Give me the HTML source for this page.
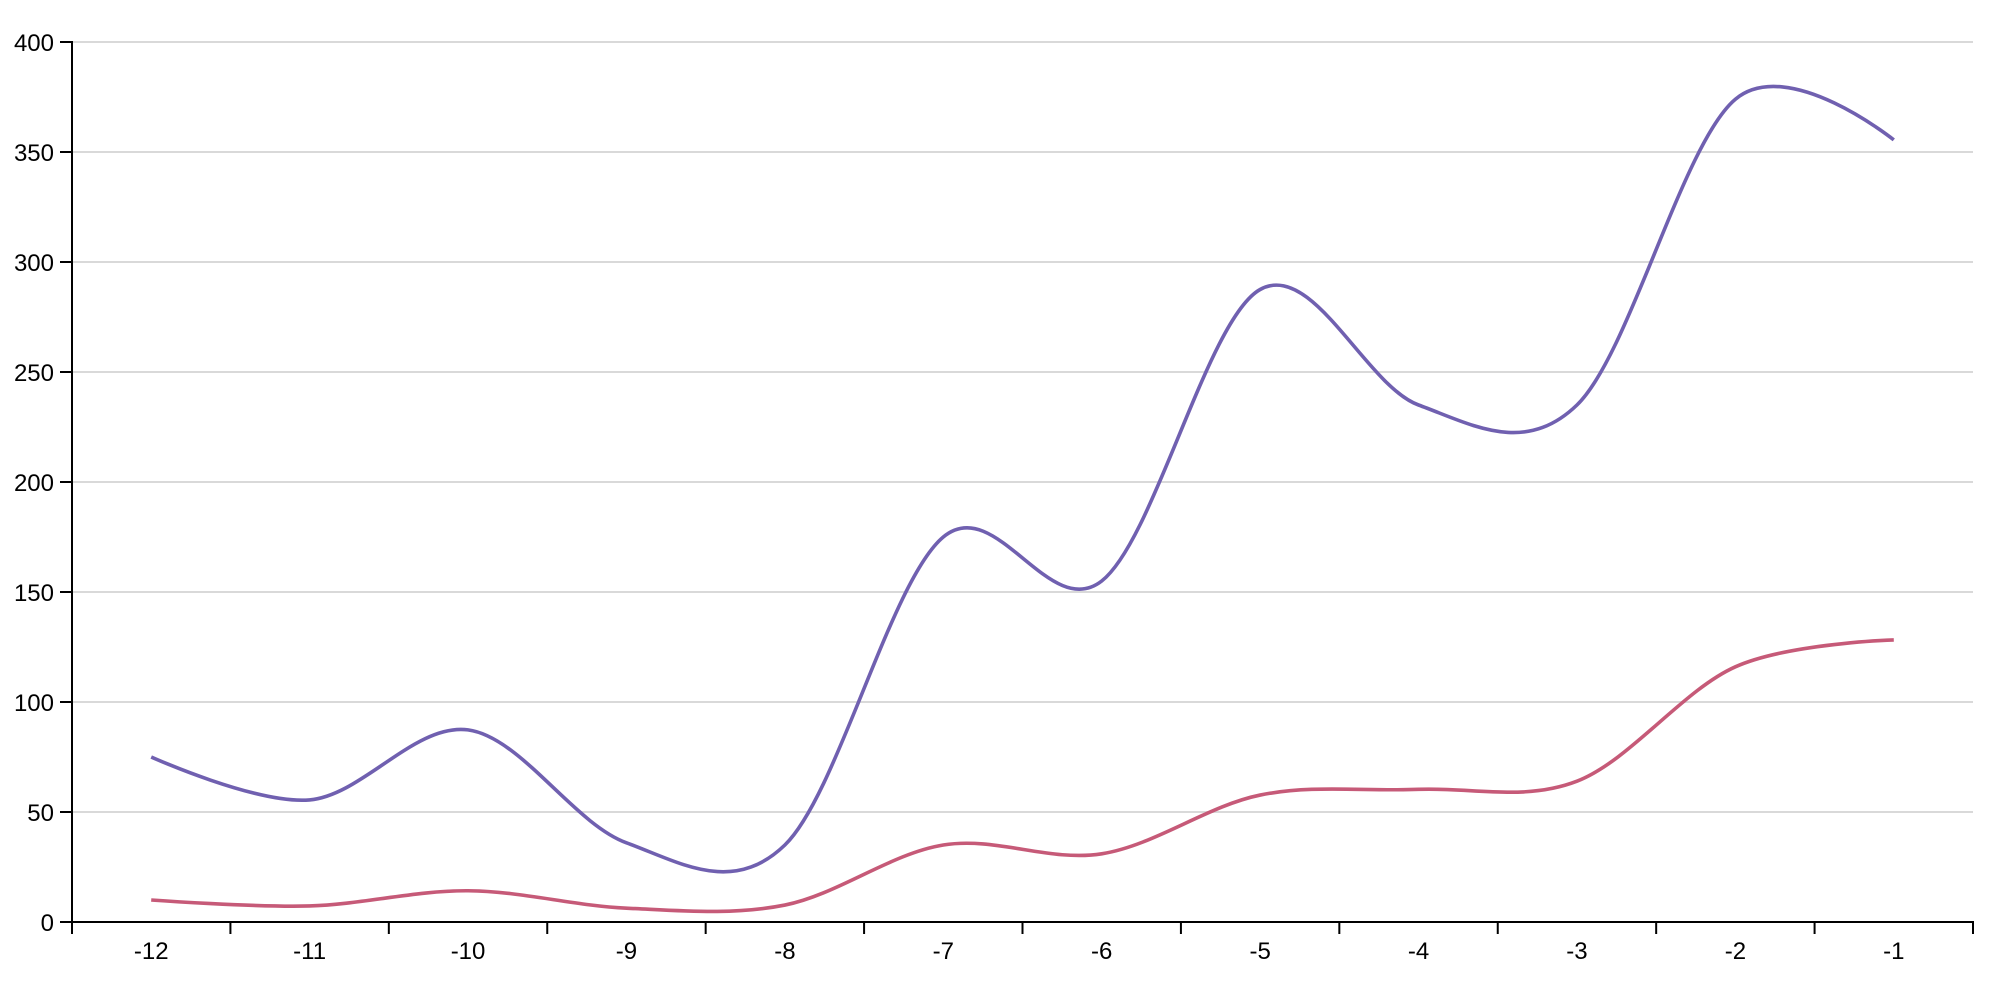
<!DOCTYPE html>
<html>
<head>
<meta charset="utf-8">
<style>
  html, body { margin: 0; padding: 0; background: #ffffff; }
  svg { display: block; }
  text { font-family: "Liberation Sans", Arial, Helvetica, sans-serif; font-size: 24px; fill: #000; }
</style>
</head>
<body>
<svg width="2000" height="982" viewBox="0 0 2000 982" xmlns="http://www.w3.org/2000/svg">
  <rect x="0" y="0" width="2000" height="982" fill="#ffffff"/>

  <!-- gridlines -->
  <g stroke="#d9d9d9" stroke-width="2" fill="none">
    <line x1="72" y1="42" x2="1973" y2="42"/>
    <line x1="72" y1="152" x2="1973" y2="152"/>
    <line x1="72" y1="262" x2="1973" y2="262"/>
    <line x1="72" y1="372" x2="1973" y2="372"/>
    <line x1="72" y1="482" x2="1973" y2="482"/>
    <line x1="72" y1="592" x2="1973" y2="592"/>
    <line x1="72" y1="702" x2="1973" y2="702"/>
    <line x1="72" y1="812" x2="1973" y2="812"/>
  </g>

  <!-- series -->
  <path fill="none" stroke="#7060b0" stroke-width="3.6" stroke-linejoin="round" stroke-linecap="butt"
    d="M151.21,757
       C151.21,757 256.82,804.42 309.63,799.9
       C362.44,795.38 415.23,722.75 468.04,729.9
       C520.85,737.05 573.65,823.62 626.46,842.8
       C679.27,861.98 732.07,895.97 784.88,845
       C837.69,794.03 890.48,581 943.29,537
       C996.1,493 1048.9,622.25 1101.71,581
       C1154.52,539.75 1207.32,318.83 1260.13,289.5
       C1312.94,260.17 1365.73,385.75 1418.54,405
       C1471.35,424.25 1524.15,455.97 1576.96,405
       C1629.77,354.03 1682.57,143.38 1735.38,99.2
       C1788.19,55.02 1893.79,139.9 1893.79,139.9"/>

  <path fill="none" stroke="#c65a78" stroke-width="3.6" stroke-linejoin="round" stroke-linecap="butt"
    d="M151.21,900
       C151.21,900 256.82,907.48 309.63,905.94
       C362.44,904.4 415.23,890.39 468.04,890.76
       C520.85,891.13 573.65,905.76 626.46,908.14
       C679.27,910.52 732.07,915.58 784.88,905.06
       C837.69,894.54 890.48,853.54 943.29,845
       C996.1,836.46 1048.9,862.12 1101.71,853.8
       C1154.52,845.48 1207.32,805.8 1260.13,795.06
       C1312.94,784.32 1365.73,791.65 1418.54,789.34
       C1471.35,787.03 1524.15,801.62 1576.96,781.2
       C1629.77,760.78 1682.57,690.34 1735.38,666.8
       C1788.19,643.26 1893.79,639.96 1893.79,639.96"/>

  <!-- y axis -->
  <g stroke="#000" stroke-width="2" fill="none">
    <path d="M60,42H72V922H60"/>
    <line x1="60" y1="152" x2="72" y2="152"/>
    <line x1="60" y1="262" x2="72" y2="262"/>
    <line x1="60" y1="372" x2="72" y2="372"/>
    <line x1="60" y1="482" x2="72" y2="482"/>
    <line x1="60" y1="592" x2="72" y2="592"/>
    <line x1="60" y1="702" x2="72" y2="702"/>
    <line x1="60" y1="812" x2="72" y2="812"/>
  </g>
  <g text-anchor="end">
    <text x="54" y="51">400</text>
    <text x="54" y="161">350</text>
    <text x="54" y="271">300</text>
    <text x="54" y="381">250</text>
    <text x="54" y="491">200</text>
    <text x="54" y="601">150</text>
    <text x="54" y="711">100</text>
    <text x="54" y="821">50</text>
    <text x="54" y="931">0</text>
  </g>

  <!-- x axis -->
  <g stroke="#000" stroke-width="2" fill="none">
    <path d="M72,934V922H1973V934"/>
    <line x1="230.42" y1="922" x2="230.42" y2="934"/>
    <line x1="388.83" y1="922" x2="388.83" y2="934"/>
    <line x1="547.25" y1="922" x2="547.25" y2="934"/>
    <line x1="705.67" y1="922" x2="705.67" y2="934"/>
    <line x1="864.08" y1="922" x2="864.08" y2="934"/>
    <line x1="1022.5" y1="922" x2="1022.5" y2="934"/>
    <line x1="1180.92" y1="922" x2="1180.92" y2="934"/>
    <line x1="1339.33" y1="922" x2="1339.33" y2="934"/>
    <line x1="1497.75" y1="922" x2="1497.75" y2="934"/>
    <line x1="1656.17" y1="922" x2="1656.17" y2="934"/>
    <line x1="1814.58" y1="922" x2="1814.58" y2="934"/>
  </g>
  <g text-anchor="middle">
    <text x="151.21" y="959">-12</text>
    <text x="309.63" y="959">-11</text>
    <text x="468.04" y="959">-10</text>
    <text x="626.46" y="959">-9</text>
    <text x="784.88" y="959">-8</text>
    <text x="943.29" y="959">-7</text>
    <text x="1101.71" y="959">-6</text>
    <text x="1260.13" y="959">-5</text>
    <text x="1418.54" y="959">-4</text>
    <text x="1576.96" y="959">-3</text>
    <text x="1735.38" y="959">-2</text>
    <text x="1893.79" y="959">-1</text>
  </g>
</svg>
</body>
</html>
